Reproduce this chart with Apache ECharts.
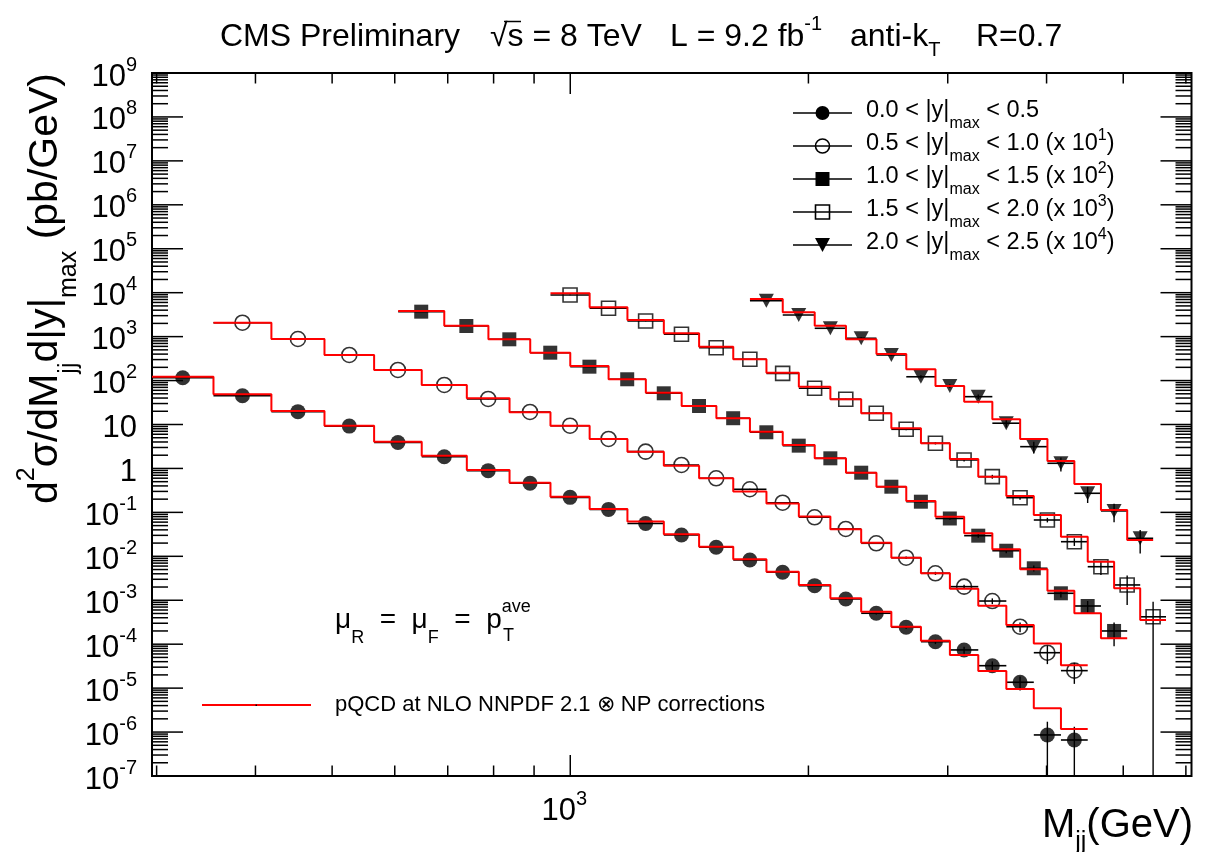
<!DOCTYPE html>
<html>
<head>
<meta charset="utf-8">
<script src="https://cdn.jsdelivr.net/npm/echarts@6/dist/echarts.min.js"></script>
<style>
  html, body { margin: 0; padding: 0; background: #fff; }
  #chart { width: 1220px; height: 852px; }
</style>
</head>
<body>
<div id="chart"></div>
<script>
const FONT = '"Liberation Sans", Arial, Helvetica, sans-serif';

// Dijet mass bin edges (GeV) for each |y|max slice
const edgesY1 = [296, 354, 419, 489, 565, 649, 740, 838, 944, 1058, 1181, 1313, 1455, 1607, 1770, 1945, 2132, 2332, 2546, 2775, 3019, 3279, 3558, 3854, 4171, 4509];
const edgesY2 = [354, 419, 489, 565, 649, 740, 838, 944, 1058, 1181, 1313, 1455, 1607, 1770, 1945, 2132, 2332, 2546, 2775, 3019, 3279, 3558, 3854, 4171, 4509];
const edgesY3 = [606, 693, 788, 890, 1000, 1118, 1246, 1383, 1530, 1687, 1856, 2037, 2231, 2438, 2659, 2895, 3147, 3416, 3704, 4010, 4337, 4686, 5058];
const edgesY4 = [944, 1058, 1181, 1313, 1455, 1607, 1770, 1945, 2132, 2332, 2546, 2775, 3019, 3279, 3558, 3854, 4171, 4509, 4869, 5253, 5663];
const edgesY5 = [1687, 1856, 2037, 2231, 2438, 2659, 2895, 3147, 3416, 3704, 4010, 4337, 4686, 5058, 5455];

// Measured cross sections (pb/GeV), before the per-slice scale factor
const dataY1 = [116, 45, 19.6, 9.2, 3.9, 1.85, 0.89, 0.46, 0.22, 0.117, 0.056, 0.0306, 0.0161, 0.00826, 0.00434, 0.00215, 0.00107, 5.06e-4, 2.43e-4, 1.14e-4, 7.4e-5, 3.24e-5, 1.36e-5, 8.6e-7, 6.6e-7];
const dataY2 = [207.5, 88.3, 38.2, 17.4, 7.94, 3.81, 1.93, 0.94, 0.468, 0.241, 0.12, 0.0597, 0.0336, 0.0166, 0.00773, 0.00419, 0.00198, 9.3e-4, 4.11e-4, 2.04e-4, 9.6e-5, 2.5e-5, 6.4e-6, 2.5e-6];
const dataY3 = [36.98, 17.46, 8.69, 4.31, 2.07, 1.07, 0.513, 0.264, 0.139, 0.0665, 0.033, 0.017, 0.008, 0.00384, 0.00175, 7.26e-4, 2.95e-4, 1.34e-4, 5.34e-5, 1.44e-5, 7.4e-6, 2.0e-6];
const dataY4 = [8.87, 4.416, 2.27, 1.13, 0.56, 0.305, 0.146, 0.0667, 0.0375, 0.018, 0.00778, 0.00374, 0.00156, 6.5e-4, 2.16e-4, 6.71e-5, 2.15e-5, 5.8e-6, 2.23e-6, 4.2e-7];
const dataY5 = [0.6577, 0.3112, 0.1549, 0.0917, 0.0382, 0.0122, 0.00753, 0.0043, 0.00107, 3.13e-4, 1.31e-4, 2.72e-5, 1.08e-5, 2.57e-6];

// Relative uncertainty of each measured point
const errY1 = [0.02, 0.02, 0.02, 0.02, 0.02, 0.02, 0.02, 0.02, 0.02, 0.02, 0.02, 0.02, 0.02, 0.02, 0.02, 0.02, 0.04, 0.06, 0.08, 0.12, 0.18, 0.25, 0.35, 1.0, 1.0];
const errY2 = [0.02, 0.02, 0.02, 0.02, 0.02, 0.02, 0.02, 0.02, 0.02, 0.02, 0.02, 0.02, 0.02, 0.02, 0.02, 0.03, 0.04, 0.06, 0.08, 0.1, 0.15, 0.25, 0.45, 0.5];
const errY3 = [0.02, 0.02, 0.02, 0.02, 0.02, 0.02, 0.02, 0.02, 0.02, 0.02, 0.02, 0.02, 0.03, 0.04, 0.05, 0.07, 0.1, 0.12, 0.15, 0.2, 0.3, 0.55];
const errY4 = [0.02, 0.02, 0.02, 0.02, 0.02, 0.02, 0.02, 0.02, 0.03, 0.04, 0.05, 0.06, 0.08, 0.1, 0.1, 0.12, 0.2, 0.35, 0.65, 1.2];
const errY5 = [0.03, 0.03, 0.04, 0.05, 0.06, 0.08, 0.1, 0.12, 0.2, 0.3, 0.35, 0.4, 0.45, 0.55];

// NLO pQCD x NP prediction (pb/GeV), before the per-slice scale factor
const theoryY1 = [122, 48.7, 20.3, 9.4, 4.06, 1.95, 0.92, 0.474, 0.228, 0.119, 0.0617, 0.0318, 0.0166, 0.00857, 0.00448, 0.00223, 0.00111, 5.5e-4, 2.5e-4, 1.2e-4, 5.7e-5, 2.46e-5, 9.6e-6, 3.5e-6, 1.17e-6];
const theoryY2 = [207.5, 88.3, 38.2, 17.4, 7.94, 3.95, 1.9, 0.94, 0.468, 0.24, 0.115, 0.06, 0.03, 0.016, 0.0081, 0.00415, 0.00204, 9.3e-4, 4.1e-4, 1.83e-4, 7.5e-5, 2.73e-5, 1.03e-5, 3.3e-6];
const theoryY3 = [38.37, 17.74, 8.69, 4.31, 2.15, 1.07, 0.53, 0.264, 0.139, 0.0687, 0.0342, 0.017, 0.008, 0.00384, 0.00182, 7.98e-4, 3.34e-4, 1.45e-4, 5.07e-5, 1.65e-5, 5.06e-6, 1.36e-6];
const theoryY4 = [9.68, 4.656, 2.393, 1.191, 0.59, 0.305, 0.151, 0.0726, 0.0375, 0.018, 0.0082, 0.00374, 0.00164, 6.5e-4, 2.36e-4, 8.73e-5, 2.8e-5, 7.55e-6, 1.87e-6, 3.56e-7];
const theoryY5 = [0.72, 0.3581, 0.1774, 0.0869, 0.0403, 0.0181, 0.00753, 0.0033, 0.00131, 4.68e-4, 1.48e-4, 4.43e-5, 1.13e-5, 2.35e-6];

const scaleFactors = [1, 10, 100, 1000, 10000];
const massRange = [296, 6099];
const sigmaRange = [1e-7, 1e9];
const xMinorTicks = [300, 400, 500, 600, 700, 800, 900, 2000, 3000, 4000, 5000, 6000];
const xMajorTicks = [1000];

const legendTexts = [
  '0.0 < |y|{sub|max} < 0.5',
  '0.5 < |y|{sub|max} < 1.0 (x 10{sup|1})',
  '1.0 < |y|{sub|max} < 1.5 (x 10{sup|2})',
  '1.5 < |y|{sub|max} < 2.0 (x 10{sup|3})',
  '2.0 < |y|{sub|max} < 2.5 (x 10{sup|4})'
];
const titleParts = ['CMS Preliminary', '\u221As = 8 TeV', 'L = 9.2 fb{sup|-1}', 'anti-k{sub|T}', 'R=0.7'];
const yTitleText = 'd{sup|2}\u03C3/dM{sub|jj}d|y|{sub|max} (pb/GeV)';
const xTitleText = 'M{sub|jj}(GeV)';
const scaleText = '\u03BC{sub|R}  =  \u03BC{sub|F}  =  p{sup|ave}';
const scaleSub = 'T';
const theoryLabel = 'pQCD at NLO NNPDF 2.1 \u2297 NP corrections';

const slices = [
  { edges: edgesY1, data: dataY1, err: errY1, theory: theoryY1, scale: scaleFactors[0], symbol: 'circle', filled: true },
  { edges: edgesY2, data: dataY2, err: errY2, theory: theoryY2, scale: scaleFactors[1], symbol: 'circle', filled: false },
  { edges: edgesY3, data: dataY3, err: errY3, theory: theoryY3, scale: scaleFactors[2], symbol: 'rect', filled: true },
  { edges: edgesY4, data: dataY4, err: errY4, theory: theoryY4, scale: scaleFactors[3], symbol: 'rect', filled: false },
  { edges: edgesY5, data: dataY5, err: errY5, theory: theoryY5, scale: scaleFactors[4], symbol: 'triangle', filled: true }
];

const RED = '#ff0000';

function font(size) { return size + 'px ' + FONT; }

// rich text styles giving ROOT-like super/subscripts
function richSet(small, supPad, subPad) {
  return {
    sup: { font: font(small), verticalAlign: 'top', padding: [supPad, 0, 0, 0], fill: '#000' },
    sub: { font: font(small), verticalAlign: 'bottom', padding: [0, 0, subPad, 0], fill: '#000' }
  };
}

function textEl(x, y, text, main, small, lineH, supPad, subPad, align, extra) {
  return Object.assign({
    type: 'text', x: x, y: y, silent: true, z: 50,
    style: {
      text: text, x: 0, y: 0, font: font(main), lineHeight: lineH, fill: '#000',
      align: align, textAlign: align, verticalAlign: 'middle', textVerticalAlign: 'middle',
      rich: richSet(small, supPad, subPad)
    }
  }, extra || {});
}

// decade labels: 1, 10, 10^n
function powerLabel(v) {
  const e = Math.round(Math.log10(v));
  if (Math.abs(Math.log10(v) - e) > 1e-6) return '';
  if (e === 0) return '{b|1}';
  if (e === 1) return '{b|10}';
  return '{b|10}{s|' + e + '}';
}

const axisLabelRich = {
  b: { fontSize: 31, fontFamily: FONT, color: '#000', lineHeight: 40, padding: [8, 0, 0, 0] },
  s: { fontSize: 20, fontFamily: FONT, color: '#000', verticalAlign: 'top', padding: [2, 0, 0, 0] }
};

const series = [];

slices.forEach(function (s) {
  const bins = s.data.map(function (v, i) { return { lo: s.edges[i], hi: s.edges[i + 1] }; });

  // horizontal (bin width) and vertical (uncertainty) error bars
  series.push({
    type: 'custom', silent: true, z: 2, animation: false,
    encode: { x: [0, 1], y: 2 },
    data: bins.map(function (b, i) { return [b.lo, b.hi, s.data[i] * s.scale, s.err[i]]; }),
    renderItem: function (params, api) {
      const lo = api.value(0), hi = api.value(1), y = api.value(2), e = api.value(3);
      const xc = Math.sqrt(lo * hi);
      const pL = api.coord([lo, y]), pR = api.coord([hi, y]);
      const dn = y * (1 - e) > sigmaRange[0] ? y * (1 - e) : sigmaRange[0];
      const pU = api.coord([xc, y * (1 + e)]), pD = api.coord([xc, dn]);
      return {
        type: 'group',
        children: [
          { type: 'line', shape: { x1: pL[0], y1: pL[1], x2: pR[0], y2: pR[1] }, style: { stroke: '#000', lineWidth: 1.6 } },
          { type: 'line', shape: { x1: pU[0], y1: pU[1], x2: pD[0], y2: pD[1] }, style: { stroke: '#000', lineWidth: 1.4 } }
        ]
      };
    }
  });

  // data markers at the bin centres
  series.push({
    type: 'scatter', silent: true, z: 3, animation: false,
    symbol: s.symbol,
    symbolSize: s.symbol === 'circle' ? 15 : (s.symbol === 'rect' ? 14 : [15, 14]),
    symbolRotate: s.symbol === 'triangle' ? 180 : 0,
    itemStyle: s.filled ? { color: '#000' } : { color: 'rgba(0,0,0,0)', borderColor: '#000', borderWidth: 1.6 },
    data: bins.map(function (b, i) { return [Math.sqrt(b.lo * b.hi), s.data[i] * s.scale]; })
  });

  // theory step histogram
  const steps = [];
  bins.forEach(function (b, i) {
    steps.push([b.lo, s.theory[i] * s.scale]);
    steps.push([b.hi, s.theory[i] * s.scale]);
  });
  series.push({
    type: 'line', silent: true, z: 4, animation: false,
    symbol: 'none', showSymbol: false,
    lineStyle: { color: RED, width: 2 },
    data: steps
  });
});

// frame ticks on all four sides (minor ticks at 2..9 per decade)
const tickData = [];
for (let e = Math.log10(sigmaRange[0]); e < Math.log10(sigmaRange[1]); e++) {
  for (let m = 1; m <= 9; m++) tickData.push([massRange[0], m * Math.pow(10, e), 0, m === 1 ? 1 : 0]);
}
tickData.push([massRange[0], sigmaRange[1], 0, 1]);
xMinorTicks.forEach(function (v) { tickData.push([v, sigmaRange[0], 1, 0]); });
xMajorTicks.forEach(function (v) { tickData.push([v, sigmaRange[0], 1, 1]); });

series.push({
  type: 'custom', silent: true, z: 6, animation: false,
  encode: { x: 0, y: 1 },
  data: tickData,
  renderItem: function (params, api) {
    const cs = params.coordSys;
    const p = api.coord([api.value(0), api.value(1)]);
    const major = api.value(3) === 1;
    const st = { stroke: '#000', lineWidth: 1.5 };
    if (api.value(2) === 0) {
      const len = major ? 31 : 16;
      return { type: 'group', children: [
        { type: 'line', shape: { x1: cs.x, y1: p[1], x2: cs.x + len, y2: p[1] }, style: st },
        { type: 'line', shape: { x1: cs.x + cs.width - len, y1: p[1], x2: cs.x + cs.width, y2: p[1] }, style: st }
      ] };
    }
    const len = major ? 21 : 10.5;
    return { type: 'group', children: [
      { type: 'line', shape: { x1: p[0], y1: cs.y + cs.height, x2: p[0], y2: cs.y + cs.height - len }, style: st },
      { type: 'line', shape: { x1: p[0], y1: cs.y, x2: p[0], y2: cs.y + len }, style: st }
    ] };
  }
});

// title, axis titles, legend and annotations
const graphics = [];
const titleX = [220, 490, 670, 850, 976];
titleParts.forEach(function (t, i) {
  graphics.push(textEl(titleX[i], 37, t, 32, 20, 46, 0, 0, 'left'));
});
// bar over the s of the square root
graphics.push({ type: 'line', silent: true, z: 50, shape: { x1: 504, y1: 21.5, x2: 521, y2: 21.5 }, style: { stroke: '#000', lineWidth: 1.5 } });

graphics.push(textEl(46, 73, yTitleText, 41, 25, 72, 5, 0, 'right', { rotation: Math.PI / 2 }));
graphics.push(textEl(1193, 826, xTitleText, 40, 25, 58, 0, 0, 'right'));
graphics.push(textEl(335, 620, scaleText, 28, 18, 55, 6, 0, 'left'));
graphics.push(textEl(503, 636, scaleSub, 18, 18, 20, 0, 0, 'left'));

graphics.push({ type: 'line', silent: true, z: 50, shape: { x1: 202, y1: 705, x2: 311, y2: 705 }, style: { stroke: RED, lineWidth: 2 } });
graphics.push({ type: 'rect', silent: true, z: 51, shape: { x: 255.5, y: 704.5, width: 1.5, height: 1.5 }, style: { fill: '#000' } });
graphics.push(textEl(335, 705, theoryLabel, 22, 14, 26, 0, 0, 'left'));

slices.forEach(function (s, i) {
  const yRow = 113 + i * 33;
  graphics.push({ type: 'line', silent: true, z: 50, shape: { x1: 793, y1: yRow, x2: 852, y2: yRow }, style: { stroke: '#000', lineWidth: 1.6 } });
  const mk = s.filled ? { fill: '#000' } : { fill: 'none', stroke: '#000', lineWidth: 1.6 };
  if (s.symbol === 'circle') {
    graphics.push({ type: 'circle', silent: true, z: 51, shape: { cx: 822.5, cy: yRow, r: 7 }, style: mk });
  } else if (s.symbol === 'rect') {
    graphics.push({ type: 'rect', silent: true, z: 51, shape: { x: 815.5, y: yRow - 7, width: 14, height: 14 }, style: mk });
  } else {
    graphics.push({ type: 'polygon', silent: true, z: 51, shape: { points: [[815, yRow - 7], [830, yRow - 7], [822.5, yRow + 7]] }, style: mk });
  }
  graphics.push(textEl(866, yRow - 2, legendTexts[i], 23.5, 16, 42, 5, 0, 'left'));
});

const chart = echarts.init(document.getElementById('chart'), null, { renderer: 'canvas' });
chart.setOption({
  animation: false,
  backgroundColor: '#fff',
  grid: { left: 152, right: 28.5, top: 73, bottom: 76, show: true, borderColor: '#000', borderWidth: 2, backgroundColor: 'transparent' },
  xAxis: {
    type: 'log', logBase: 10, min: massRange[0], max: massRange[1],
    axisLine: { show: false }, axisTick: { show: false }, splitLine: { show: false }, minorTick: { show: false },
    axisLabel: {
      margin: 11, color: '#000', padding: [0, 12, 0, 0],
      showMinLabel: false, showMaxLabel: false,
      formatter: function (v) { return powerLabel(v); },
      rich: axisLabelRich
    }
  },
  yAxis: {
    type: 'log', logBase: 10, min: sigmaRange[0], max: sigmaRange[1], interval: 1,
    axisLine: { show: false }, axisTick: { show: false }, splitLine: { show: false }, minorTick: { show: false },
    axisLabel: {
      interval: 0, margin: 15, color: '#000',
      showMinLabel: true, showMaxLabel: true, hideOverlap: false,
      formatter: function (v) { return powerLabel(v); },
      rich: axisLabelRich
    }
  },
  series: series,
  graphic: { elements: graphics }
});
</script>
</body>
</html>
